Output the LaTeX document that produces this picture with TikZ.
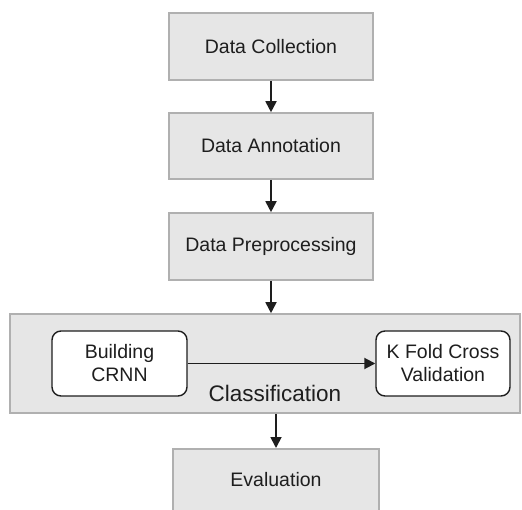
\documentclass[tikz,border=0pt]{standalone}
\usepackage{fontspec}
\setmainfont{Liberation Sans}
\usetikzlibrary{arrows.meta}
\definecolor{boxfill}{HTML}{E6E6E6}
\definecolor{boxline}{HTML}{B0B0B0}
\definecolor{ink}{HTML}{1E1E1E}
\tikzset{
  stepbox/.style={draw=boxline, fill=boxfill, line width=1.6pt, inner sep=0pt,
    text=ink, font=\fontsize{19.5}{22}\selectfont},
  innerbox/.style={draw=ink, fill=white, line width=1.4pt, rounded corners=9pt,
    inner sep=0pt, text=ink, align=center, font=\fontsize{19.5}{23}\selectfont},
  flow/.style={draw=ink, line width=1.8pt, -{Triangle[width=11pt,length=11pt]}},
}
\begin{document}
\begin{tikzpicture}[x=1pt,y=1pt]
  \useasboundingbox (0,0) rectangle (522,-510);

  % pipeline stages
  \node[stepbox, minimum width=204, minimum height=67] (dc) at (271,-46.5) {Data Collection};
  \node[stepbox, minimum width=204, minimum height=66] (da) at (271,-146) {Data Annotation};
  \node[stepbox, minimum width=204, minimum height=67] (dp) at (271,-246.5) {Data Preprocessing};

  % classification group
  \node[draw=boxline, fill=boxfill, line width=1.6pt, inner sep=0pt,
        minimum width=510, minimum height=99] (cls) at (265,-363.5) {};
  \node[innerbox, minimum width=135, minimum height=65] (bc) at (119.5,-363.5) {Building\\CRNN};
  \node[innerbox, minimum width=134, minimum height=65] (kf) at (443,-363.5) {K Fold Cross\\Validation};
  \node[text=ink, font=\fontsize{22.5}{26}\selectfont] (lbl) at (275,-393) {Classification};

  % evaluation (runs past the lower edge)
  \node[stepbox, minimum width=206, minimum height=67, anchor=north] (ev) at (276,-448) {};
  \node[text=ink, font=\fontsize{19.5}{22}\selectfont] (evl) at (276,-480) {Evaluation};

  % connectors
  \draw[flow] (dc.south) -- (da.north);
  \draw[flow] (da.south) -- (dp.north);
  \draw[flow] (dp.south) -- (dp.south |- cls.north);
  \draw[flow] (bc.east) -- (kf.west);
  \draw[flow] (ev.north |- cls.south) -- (ev.north);
\end{tikzpicture}
\end{document}
